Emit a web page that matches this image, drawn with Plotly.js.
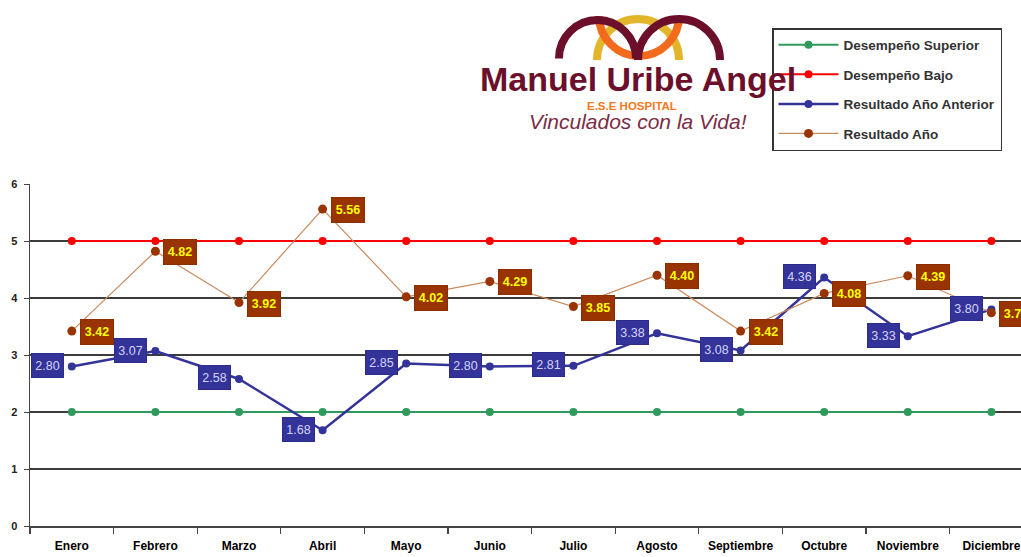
<!DOCTYPE html>
<html>
<head>
<meta charset="utf-8">
<script src="https://cdn.plot.ly/plotly-3.0.1.min.js"></script>
<style>html,body{margin:0;padding:0;background:#fff;}#chart{width:1021px;height:557px;}</style>
</head>
<body>
<div id="chart"></div>
<script>
const months = ['Enero','Febrero','Marzo','Abril','Mayo','Junio','Julio','Agosto','Septiembre','Octubre','Noviembre','Diciembre'];
const desempenoSuperior = [2,2,2,2,2,2,2,2,2,2,2,2];
const desempenoBajo = [5,5,5,5,5,5,5,5,5,5,5,5];
const resultadoAnterior = [2.80,3.07,2.58,1.68,2.85,2.80,2.81,3.38,3.08,4.36,3.33,3.80];
const resultadoAnio = [3.42,4.82,3.92,5.56,4.02,4.29,3.85,4.40,3.42,4.08,4.39,3.74];
const yTicks = [0,1,2,3,4,5,6];

// plot-area geometry (px) for converting header decorations to paper coords
const L = 30, T = 184, W = 991, H = 342;
const px = X => (X - L) / W;
const py = Y => (T + H - Y) / H;

const FONT = 'Liberation Sans, Arial, sans-serif';

const traces = [
  {name:'Desempeño Superior', x:months, y:desempenoSuperior, mode:'lines+markers', legendgroup:'a',
   line:{color:'#2f9a5c', width:2}, marker:{color:'#2f9a5c', size:8}, cliponaxis:false},
  {name:'Desempeño Bajo', x:months, y:desempenoBajo, mode:'lines+markers', legendgroup:'b',
   line:{color:'#ff0000', width:2}, marker:{color:'#ff0000', size:8}, cliponaxis:false},
  {name:'Resultado Año Anterior', x:months, y:resultadoAnterior, mode:'lines+markers', legendgroup:'c',
   line:{color:'#333399', width:2.5}, marker:{color:'#333399', size:8}, cliponaxis:false},
  {name:'Resultado Año', x:months, y:resultadoAnio, mode:'lines+markers', legendgroup:'d',
   line:{color:'#c98a5e', width:1.2}, marker:{color:'#993300', size:9}, cliponaxis:false}
];

const annotations = [];
resultadoAnio.forEach((v,i) => annotations.push({
  x: months[i], y: v, xref:'x', yref:'y', text: v.toFixed(2), showarrow:false,
  xanchor:'left', yanchor:'middle', xshift:8, yshift:-1, width:30, height:22,
  bgcolor:'#993300', bordercolor:'#8a2e00', borderwidth:1,
  font:{family:FONT, size:12.5, color:'#ffff00', weight:'bold'}
}));
resultadoAnterior.forEach((v,i) => annotations.push({
  x: months[i], y: v, xref:'x', yref:'y', text: v.toFixed(2), showarrow:false,
  xanchor:'right', yanchor:'middle', xshift:-8, yshift:1, width:29, height:21,
  bgcolor:'#333399', bordercolor:'#2c2c8a', borderwidth:1,
  font:{family:FONT, size:12.5, color:'#d4d4ff'}
}));
// header logo texts
annotations.push({xref:'paper', yref:'paper', x:px(638), y:py(79), xanchor:'center', yanchor:'middle', showarrow:false,
  text:'Manuel Uribe Angel', font:{family:FONT, size:34, color:'#6b0f2a', weight:'bold'}});
annotations.push({xref:'paper', yref:'paper', x:px(632), y:py(106), xanchor:'center', yanchor:'middle', showarrow:false,
  text:'E.S.E HOSPITAL', font:{family:FONT, size:11.5, color:'#f47920', weight:'bold'}});
annotations.push({xref:'paper', yref:'paper', x:px(638), y:py(121), xanchor:'center', yanchor:'middle', showarrow:false,
  text:'Vinculados con la Vida!', font:{family:FONT, size:21, color:'#7b2d45', style:'italic'}});

// logo arches (semicircles built from two cubic Béziers)
const k = 0.5523;
function arch(cx, cy, r, opensDown) {
  const d = opensDown ? -1 : 1; // pixel-y direction of the apex
  const p = [[cx-r,cy],[cx-r,cy+d*k*r],[cx-k*r,cy+d*r],[cx,cy+d*r],[cx+k*r,cy+d*r],[cx+r,cy+d*k*r],[cx+r,cy]];
  const q = p.map(([X,Y]) => px(X).toFixed(5)+','+py(Y).toFixed(5));
  return 'M'+q[0]+' C'+q[1]+' '+q[2]+' '+q[3]+' C'+q[4]+' '+q[5]+' '+q[6];
}
const shapes = [
  {type:'path', xref:'paper', yref:'paper', path:arch(638,60,41,true), line:{color:'#e3b52a', width:8}},
  {type:'path', xref:'paper', yref:'paper', path:arch(639,16,40,false), line:{color:'#f26a1b', width:8}},
  {type:'path', xref:'paper', yref:'paper', path:arch(597.5,58.5,38.5,true), line:{color:'#6b0f2a', width:8}},
  {type:'path', xref:'paper', yref:'paper', path:arch(679,60,41,true), line:{color:'#6b0f2a', width:8}}
];

const layout = {
  width:1021, height:557,
  margin:{l:L, r:0, t:T, b:557-T-H},
  paper_bgcolor:'#ffffff', plot_bgcolor:'#ffffff',
  showlegend:true,
  legend:{x:px(772), y:py(28), xanchor:'left', yanchor:'top', bgcolor:'#ffffff',
    bordercolor:'#333333', borderwidth:1.5, tracegroupgap:9, itemwidth:60,
    entrywidth:300, entrywidthmode:'pixels',
    font:{family:FONT, size:13.5, color:'#333333', weight:'bold'}},
  xaxis:{type:'category', range:[-0.5, 11.354], showgrid:false, zeroline:false,
    showline:true, linecolor:'#444444', linewidth:1.5,
    ticks:'outside', tickson:'boundaries', ticklen:6, tickcolor:'#444444', tickwidth:1.2,
    ticklabelstandoff:8,
    tickfont:{family:FONT, size:12, color:'#000000', weight:'bold'}},
  yaxis:{range:[0,6], tickvals:yTicks, ticktext:yTicks.map(String), showgrid:true, gridcolor:'#3c3c3c', gridwidth:1.4,
    zeroline:false, showline:true, linecolor:'#444444', linewidth:1.5,
    ticks:'outside', ticklen:5, tickcolor:'#444444', ticklabelstandoff:4,
    tickfont:{family:FONT, size:11, color:'#222222', weight:'bold'}},
  annotations: annotations,
  shapes: shapes
};

Plotly.newPlot('chart', traces, layout, {displayModeBar:false, staticPlot:true});
</script>
</body>
</html>
